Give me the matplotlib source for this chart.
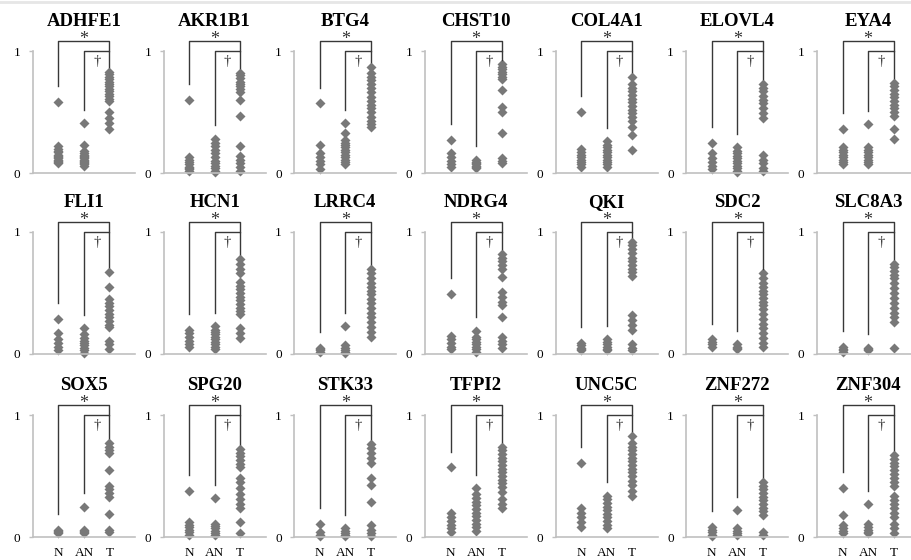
import matplotlib.pyplot as plt
from matplotlib.lines import Line2D

plt.rcParams["font.family"] = ["Liberation Serif", "DejaVu Serif"]

# methylation levels (N = normal, AN = adjacent normal, T = tumour)
groups = ["N", "AN", "T"]

genes = ["ADHFE1", "AKR1B1", "BTG4", "CHST10", "COL4A1", "ELOVL4", "EYA4",
         "FLI1", "HCN1", "LRRC4", "NDRG4", "QKI", "SDC2", "SLC8A3",
         "SOX5", "SPG20", "STK33", "TFPI2", "UNC5C", "ZNF272", "ZNF304"]

n_vals = [
    [0.58, 0.22, 0.20, 0.18, 0.17, 0.15, 0.14, 0.13, 0.12, 0.11, 0.10, 0.09, 0.08],
    [0.60, 0.13, 0.11, 0.09, 0.07, 0.05, 0.04, 0.03, 0.02],
    [0.57, 0.23, 0.16, 0.13, 0.10, 0.07, 0.03],
    [0.27, 0.16, 0.13, 0.10, 0.07, 0.05],
    [0.50, 0.20, 0.17, 0.15, 0.13, 0.11, 0.09, 0.07, 0.05],
    [0.25, 0.16, 0.12, 0.09, 0.06, 0.03],
    [0.36, 0.21, 0.19, 0.17, 0.15, 0.13, 0.11, 0.09, 0.07],
    [0.29, 0.17, 0.12, 0.09, 0.06, 0.03],
    [0.20, 0.17, 0.14, 0.11, 0.08, 0.06],
    [0.05, 0.04, 0.03, 0.02],
    [0.49, 0.15, 0.12, 0.09, 0.06, 0.04],
    [0.09, 0.07, 0.05, 0.04, 0.03],
    [0.12, 0.10, 0.08, 0.06],
    [0.06, 0.04, 0.03, 0.02],
    [0.06, 0.05, 0.04, 0.03],
    [0.38, 0.12, 0.10, 0.08, 0.06, 0.04, 0.02],
    [0.11, 0.04, 0.02, 0.01],
    [0.57, 0.20, 0.16, 0.13, 0.10, 0.07, 0.04],
    [0.61, 0.24, 0.20, 0.16, 0.12, 0.08],
    [0.08, 0.06, 0.04, 0.02, 0.01],
    [0.40, 0.18, 0.10, 0.07, 0.05, 0.03],
]

an_vals = [
    [0.41, 0.23, 0.18, 0.16, 0.15, 0.14, 0.13, 0.12, 0.11, 0.10, 0.09, 0.08, 0.07, 0.06],
    [0.28, 0.25, 0.22, 0.19, 0.16, 0.13, 0.10, 0.08, 0.06, 0.04, 0.02, 0.01],
    [0.41, 0.33, 0.27, 0.25, 0.23, 0.21, 0.19, 0.17, 0.15, 0.13, 0.11, 0.09, 0.07],
    [0.11, 0.09, 0.08, 0.07, 0.06, 0.05, 0.04],
    [0.26, 0.23, 0.21, 0.19, 0.17, 0.15, 0.13, 0.11, 0.09, 0.07, 0.05],
    [0.21, 0.18, 0.16, 0.14, 0.12, 0.10, 0.08, 0.06, 0.04, 0.02, 0.01],
    [0.40, 0.21, 0.19, 0.17, 0.15, 0.13, 0.11, 0.09, 0.07],
    [0.21, 0.16, 0.13, 0.11, 0.09, 0.07, 0.05, 0.03, 0.01],
    [0.23, 0.20, 0.18, 0.16, 0.14, 0.12, 0.10, 0.08, 0.06, 0.04],
    [0.23, 0.07, 0.05, 0.03, 0.02, 0.01],
    [0.19, 0.14, 0.12, 0.10, 0.08, 0.06, 0.04, 0.02],
    [0.12, 0.10, 0.08, 0.06, 0.04, 0.03],
    [0.08, 0.06, 0.05, 0.04],
    [0.05, 0.04, 0.03],
    [0.25, 0.06, 0.05, 0.04, 0.03],
    [0.32, 0.11, 0.09, 0.07, 0.05, 0.03, 0.02],
    [0.07, 0.05, 0.03, 0.02, 0.01],
    [0.40, 0.35, 0.32, 0.29, 0.26, 0.23, 0.20, 0.17, 0.14, 0.11, 0.08, 0.05],
    [0.34, 0.31, 0.28, 0.25, 0.22, 0.19, 0.16, 0.13, 0.10, 0.07],
    [0.22, 0.07, 0.05, 0.03, 0.02],
    [0.27, 0.11, 0.08, 0.06, 0.04, 0.03],
]

t_vals = [
    [0.83, 0.81, 0.79, 0.77, 0.75, 0.73, 0.71, 0.69, 0.67, 0.65, 0.63, 0.61, 0.59, 0.50, 0.45, 0.41, 0.36],
    [0.82, 0.80, 0.78, 0.75, 0.73, 0.71, 0.69, 0.66, 0.60, 0.47, 0.22, 0.14, 0.11, 0.08, 0.05, 0.02],
    [0.87, 0.82, 0.79, 0.76, 0.73, 0.70, 0.66, 0.62, 0.59, 0.56, 0.53, 0.50, 0.46, 0.43, 0.40, 0.38],
    [0.89, 0.87, 0.85, 0.83, 0.81, 0.79, 0.77, 0.68, 0.54, 0.50, 0.33, 0.12, 0.10, 0.08],
    [0.79, 0.73, 0.70, 0.67, 0.64, 0.61, 0.58, 0.55, 0.52, 0.49, 0.46, 0.43, 0.38, 0.31, 0.19],
    [0.73, 0.70, 0.67, 0.63, 0.60, 0.57, 0.53, 0.49, 0.45, 0.15, 0.11, 0.08, 0.04, 0.02],
    [0.74, 0.71, 0.68, 0.65, 0.62, 0.59, 0.56, 0.53, 0.50, 0.47, 0.36, 0.28],
    [0.67, 0.55, 0.45, 0.42, 0.39, 0.36, 0.33, 0.30, 0.27, 0.24, 0.22, 0.11, 0.08, 0.04],
    [0.78, 0.74, 0.70, 0.66, 0.59, 0.56, 0.53, 0.50, 0.47, 0.44, 0.41, 0.38, 0.35, 0.33, 0.21, 0.17, 0.13],
    [0.70, 0.66, 0.62, 0.58, 0.55, 0.52, 0.49, 0.45, 0.42, 0.38, 0.34, 0.30, 0.26, 0.22, 0.18, 0.14],
    [0.82, 0.79, 0.76, 0.73, 0.70, 0.63, 0.51, 0.47, 0.43, 0.40, 0.30, 0.14, 0.11, 0.08, 0.05],
    [0.92, 0.89, 0.86, 0.83, 0.79, 0.76, 0.73, 0.70, 0.67, 0.64, 0.32, 0.28, 0.24, 0.20, 0.08, 0.05, 0.03],
    [0.66, 0.62, 0.58, 0.55, 0.52, 0.49, 0.46, 0.43, 0.40, 0.37, 0.33, 0.29, 0.25, 0.21, 0.17, 0.13, 0.09, 0.06],
    [0.74, 0.71, 0.68, 0.65, 0.62, 0.58, 0.54, 0.50, 0.46, 0.42, 0.38, 0.34, 0.30, 0.26, 0.05],
    [0.77, 0.74, 0.71, 0.69, 0.55, 0.42, 0.39, 0.36, 0.33, 0.19, 0.06, 0.04],
    [0.72, 0.69, 0.66, 0.63, 0.60, 0.57, 0.48, 0.45, 0.40, 0.35, 0.31, 0.27, 0.24, 0.12, 0.03],
    [0.76, 0.73, 0.69, 0.65, 0.61, 0.48, 0.43, 0.29, 0.10, 0.06, 0.03, 0.01],
    [0.74, 0.71, 0.68, 0.65, 0.62, 0.59, 0.56, 0.53, 0.50, 0.47, 0.44, 0.41, 0.37, 0.31, 0.27, 0.24],
    [0.83, 0.77, 0.74, 0.71, 0.68, 0.65, 0.62, 0.59, 0.56, 0.53, 0.50, 0.46, 0.43, 0.38, 0.34],
    [0.45, 0.42, 0.39, 0.36, 0.33, 0.30, 0.27, 0.24, 0.21, 0.18, 0.04, 0.02],
    [0.67, 0.64, 0.61, 0.58, 0.55, 0.52, 0.48, 0.45, 0.42, 0.34, 0.30, 0.27, 0.24, 0.20, 0.16, 0.11, 0.07, 0.03],
]

W, H = 912, 560
row_zero = [173, 354, 537]   # pixel row of y=0 for each panel row
unit = 122                   # pixels per unit of y
marker_col = "#787878"
axis_col = "#c0c0c0"
line_col = "#383838"

fig = plt.figure(figsize=(W / 100, H / 100), dpi=100)
fig.add_artist(Line2D([0, 1], [0.997, 0.997], color="#e6e6e6", lw=2))

for i, gene in enumerate(genes):
    r, c = divmod(i, 7)
    left = 33 + c * 130.67
    ax = fig.add_axes([left / W, (H - row_zero[r]) / H, 102 / W, unit / H])

    data = [n_vals[i], an_vals[i], t_vals[i]]
    for x, vals in zip([1, 2, 3], data):
        ax.plot([x] * len(vals), vals, "D", ms=5, color=marker_col,
                mec="none", clip_on=False)

    # significance brackets
    n_top = max(n_vals[i]) + 0.13
    an_top = max(an_vals[i]) + 0.11
    t_top = max(t_vals[i]) + 0.04
    ax.plot([1, 1, 3, 3], [n_top, 1.08, 1.08, 1.0], color=line_col, lw=1, clip_on=False)
    ax.plot([2, 2, 3, 3], [an_top, 1.0, 1.0, t_top], color=line_col, lw=1, clip_on=False)
    ax.text(2, 1.095, "*", ha="center", va="center", fontsize=13, color="#333333")
    ax.text(2.5, 0.91, "\u2020", ha="center", va="center", fontsize=10.5, color="#333333")

    ax.text(2, 1.24, gene, ha="center", va="center", fontsize=13.5, fontweight="bold")

    ax.set_xlim(0, 4)
    ax.set_ylim(0, 1)
    for s in ["top", "right"]:
        ax.spines[s].set_visible(False)
    for s in ["left", "bottom"]:
        ax.spines[s].set_color(axis_col)
        ax.spines[s].set_linewidth(1.2)

    ax.set_yticks([0, 1])
    ax.set_yticklabels(["0", "1"])
    ax.tick_params(axis="y", length=3, width=1, color=axis_col, labelsize=9.5, pad=6)
    if r == 2:
        ax.set_xticks([1, 2, 3])
        ax.set_xticklabels(groups)
        ax.tick_params(axis="x", length=0, labelsize=9.5, pad=7)
    else:
        ax.set_xticks([])

plt.savefig("out.png", dpi=100)
